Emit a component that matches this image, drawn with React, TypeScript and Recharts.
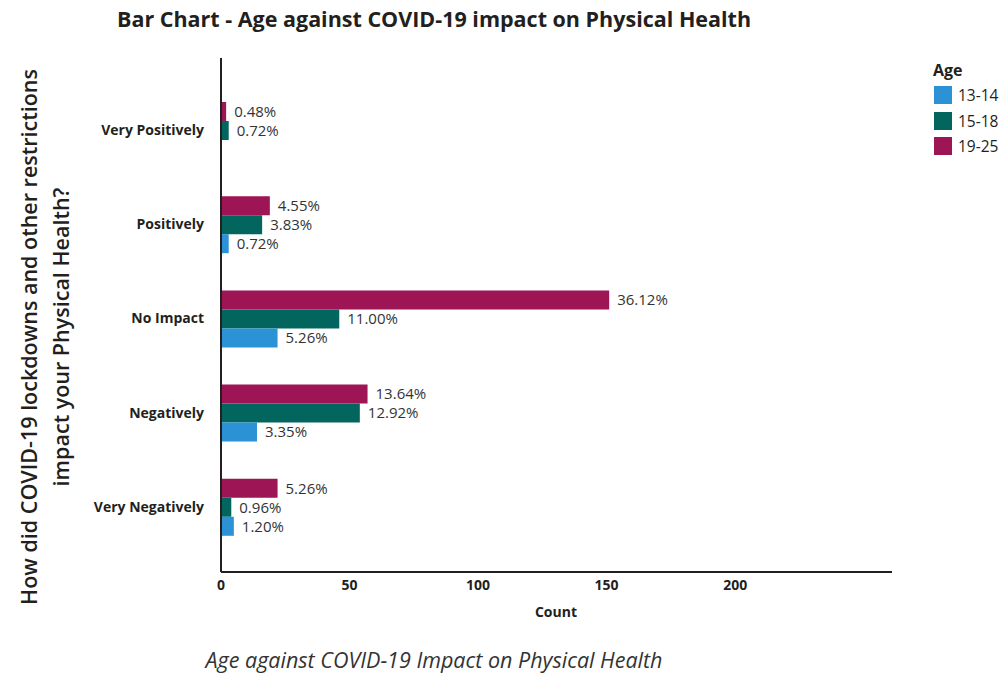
import { BarChart, Bar, XAxis, YAxis, LabelList } from "recharts";

// answers, top to bottom
const responses = ["Very Positively", "Positively", "No Impact", "Negatively", "Very Negatively"];

// respondent counts per age band
const age13to14 = [0, 3, 22, 14, 5];
const age15to18 = [3, 16, 46, 54, 4];
const age19to25 = [2, 19, 151, 57, 22];

const countTicks = [0, 50, 100, 150, 200];

const FONT = "'Open Sans', Lato, sans-serif";
const INK = "#231f20";

const ageGroups = [
  { key: "a13", name: "13-14", values: age13to14, color: "#2b93d5" },
  { key: "a15", name: "15-18", values: age15to18, color: "#03665e" },
  { key: "a19", name: "19-25", values: age19to25, color: "#9e1556" },
];

const total = ageGroups.reduce((s, g) => s + g.values.reduce((a, b) => a + b, 0), 0);

const rows = responses.map((name, i) => {
  const row: Record<string, string | number> = { name };
  ageGroups.forEach((g) => (row[g.key] = g.values[i]));
  return row;
});

const pct = (v: any) => (Number(v) > 0 ? `${((Number(v) / total) * 100).toFixed(2)}%` : "");

// bars inside each band go 19-25, 15-18, 13-14 from the top
const barOrder = [...ageGroups].reverse();

export default function App() {
  return (
    <div style={{ position: "absolute", left: 0, top: 0, width: 1007, height: 675, background: "#fff", fontFamily: FONT, color: INK }}>
      <div style={{ position: "absolute", left: 0, top: 5, width: 868, textAlign: "center", fontSize: 21.5, fontWeight: 700, lineHeight: "28px" }}>
        Bar Chart - Age against COVID-19 impact on Physical Health
      </div>

      <div
        style={{
          position: "absolute",
          left: 45 - 310,
          top: 337 - 32,
          width: 620,
          height: 64,
          lineHeight: "32px",
          textAlign: "center",
          fontSize: 21.5,
          fontWeight: 600,
          transform: "rotate(-90deg)",
        }}
      >
        How did COVID-19 lockdowns and other restrictions
        <br />
        impact your Physical Health?
      </div>

      <BarChart
        width={1007}
        height={675}
        data={rows}
        layout="vertical"
        barSize={19}
        barGap={0}
        margin={{ top: 58, right: 115, bottom: 73, left: 0 }}
      >
        <XAxis
          type="number"
          domain={[0, 261]}
          ticks={countTicks}
          height={30}
          tickLine={false}
          axisLine={{ stroke: INK, strokeWidth: 2 }}
          tick={{ fill: INK, fontSize: 14, fontWeight: 700, fontFamily: FONT }}
          allowDataOverflow
        />
        <YAxis
          type="category"
          dataKey="name"
          width={221}
          tickLine={false}
          tickMargin={11}
          padding={{ top: 25, bottom: 18 }}
          axisLine={{ stroke: INK, strokeWidth: 2 }}
          tick={{ fill: INK, fontSize: 14, fontWeight: 700, fontFamily: FONT }}
        />
        {barOrder.map((g) => (
          <Bar key={g.key} dataKey={g.key} name={g.name} fill={g.color} isAnimationActive={false}>
            <LabelList
              dataKey={g.key}
              position="right"
              offset={8}
              formatter={pct}
              style={{ fill: "#333", fontSize: 15, fontFamily: FONT }}
            />
          </Bar>
        ))}
      </BarChart>

      <div style={{ position: "absolute", left: 506, top: 602, width: 100, textAlign: "center", fontSize: 14, fontWeight: 700, lineHeight: "20px" }}>
        Count
      </div>

      <div style={{ position: "absolute", left: 933, top: 60, fontSize: 16, fontWeight: 700, lineHeight: "20px" }}>Age</div>
      {ageGroups.map((g, i) => (
        <div key={g.key} style={{ position: "absolute", left: 934, top: 86 + i * 25.5, display: "flex", alignItems: "center", height: 18 }}>
          <div style={{ width: 18, height: 18, background: g.color }} />
          <span style={{ marginLeft: 6, fontSize: 15.5, lineHeight: "18px" }}>{g.name}</span>
        </div>
      ))}

      <div style={{ position: "absolute", left: 0, top: 646, width: 868, textAlign: "center", fontSize: 21.5, fontStyle: "italic", lineHeight: "28px", color: "#333" }}>
        Age against COVID-19 Impact on Physical Health
      </div>
    </div>
  );
}
